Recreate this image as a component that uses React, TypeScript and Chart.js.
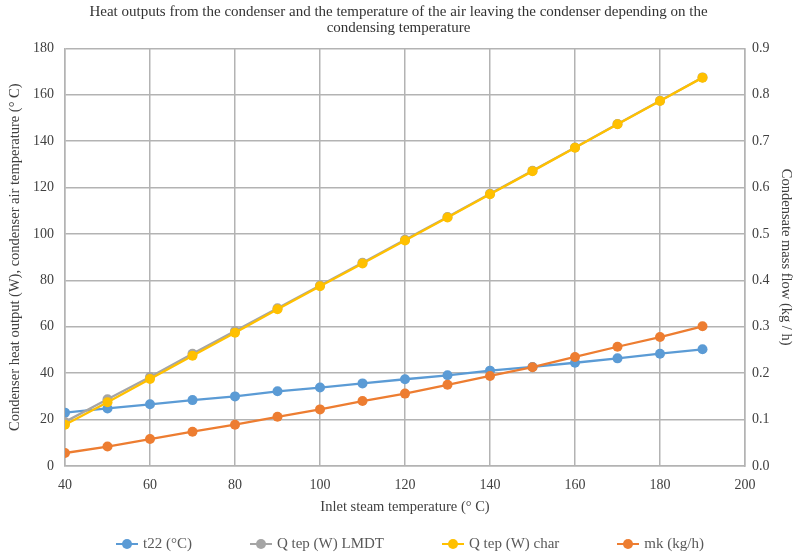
import React, { useEffect, useRef } from 'react';
import { Chart, registerables } from 'chart.js';

Chart.register(...registerables);

const inletTemps = [40, 50, 60, 70, 80, 90, 100, 110, 120, 130, 140, 150, 160, 170, 180, 190];
const t22 = [23.0, 24.8, 26.6, 28.4, 30.0, 32.2, 33.8, 35.6, 37.4, 39.1, 41.1, 42.7, 44.5, 46.4, 48.4, 50.3];
const qLmdt = [19.0, 28.8, 38.4, 48.4, 58.2, 68.0, 77.8, 87.6, 97.5, 107.3, 117.3, 127.3, 137.3, 147.4, 157.4, 167.5];
const qChar = [17.8, 27.5, 37.5, 47.5, 57.4, 67.6, 77.5, 87.3, 97.2, 107.1, 117.1, 127.1, 137.2, 147.3, 157.3, 167.4];
const mk = [0.028, 0.042, 0.058, 0.074, 0.089, 0.106, 0.122, 0.14, 0.156, 0.175, 0.194, 0.213, 0.235, 0.257, 0.278, 0.301];

const seriesLabels = ['t22 (°C)', 'Q tep (W) LMDT', 'Q tep (W) char', 'mk (kg/h)'];
const seriesColors = ['#5B9BD5', '#A5A5A5', '#FFC000', '#ED7D31'];
const seriesAxes = ['y', 'y', 'y', 'y1'];
const seriesValues = [t22, qLmdt, qChar, mk];
const seriesOrder = [4, 3, 2, 1];

const titleLines = [
  'Heat outputs from the condenser and the temperature of the air leaving the condenser depending on the',
  'condensing temperature',
];
const xTitle = 'Inlet steam temperature (° C)';
const yTitle = 'Condenser heat output (W), condenser air temperature (° C)';
const y1Title = 'Condensate mass flow (kg / h)';

const FONT = "'Liberation Serif', 'Times New Roman', serif";
const GRID = '#b3b3b3';
const TEXT = '#404040';

export default function App() {
  const canvasRef = useRef<HTMLCanvasElement | null>(null);

  useEffect(() => {
    const ctx = canvasRef.current;
    if (!ctx) return;
    const datasets = seriesLabels.map((label, i) => ({
      label,
      data: inletTemps.map((x, j) => ({ x, y: seriesValues[i][j] })),
      borderColor: seriesColors[i],
      backgroundColor: seriesColors[i],
      pointBackgroundColor: seriesColors[i],
      pointBorderColor: seriesColors[i],
      pointBorderWidth: 0,
      pointRadius: 5,
      borderWidth: 2.3,
      yAxisID: seriesAxes[i],
      order: seriesOrder[i],
      tension: 0,
    }));
    const chart = new Chart(ctx, {
      type: 'line',
      data: { datasets },
      options: {
        animation: false,
        responsive: false,
        layout: { padding: { top: 0, left: 0, right: 0, bottom: 33 } },
        plugins: {
          legend: { display: false },
          tooltip: { enabled: false },
          title: {
            display: true,
            text: titleLines,
            color: '#333333',
            font: { family: FONT, size: 15, weight: 'normal', lineHeight: 1.08 },
            padding: { top: 4, bottom: 12 },
          },
        },
        scales: {
          x: {
            type: 'linear',
            min: 40,
            max: 200,
            ticks: { stepSize: 20, color: TEXT, font: { family: FONT, size: 14 }, padding: 11 },
            grid: { color: GRID, lineWidth: 1.5, drawTicks: false },
            border: { color: GRID, width: 1.5 },
            title: {
              display: true,
              text: xTitle,
              color: TEXT,
              font: { family: FONT, size: 14.5 },
              padding: { top: 0, bottom: 6 },
            },
            afterFit: (s: any) => {
              s.height = 56;
            },
          },
          y: {
            position: 'left',
            min: 0,
            max: 180,
            ticks: { stepSize: 20, color: TEXT, font: { family: FONT, size: 14 }, padding: 11 },
            grid: { color: GRID, lineWidth: 1.5, drawTicks: false },
            border: { color: GRID, width: 1.5 },
            title: {
              display: true,
              text: yTitle,
              color: TEXT,
              font: { family: FONT, size: 14.5 },
              padding: { top: 6, bottom: 0 },
            },
            afterFit: (s: any) => {
              s.width = 65;
            },
          },
          y1: {
            position: 'right',
            min: 0,
            max: 0.9,
            ticks: {
              stepSize: 0.1,
              color: TEXT,
              font: { family: FONT, size: 14 },
              padding: 7,
              callback: (v: any) => Number(v).toFixed(1),
            },
            grid: { display: false, drawTicks: false },
            border: { color: GRID, width: 1.5 },
            title: {
              display: true,
              text: y1Title,
              color: TEXT,
              font: { family: FONT, size: 14.5 },
              padding: { top: 2, bottom: 0 },
            },
            afterFit: (s: any) => {
              s.width = 52;
            },
          },
        },
      },
    });
    return () => chart.destroy();
  }, []);

  return (
    <div style={{ position: 'absolute', left: 0, top: 0, width: 797, height: 555, background: '#fff' }}>
      <canvas ref={canvasRef} width={797} height={555} style={{ display: 'block' }} />
      <div
        style={{
          position: 'absolute',
          left: 116,
          top: 535,
          display: 'flex',
          alignItems: 'center',
          gap: 58,
          fontFamily: FONT,
          fontSize: 15,
          color: '#595959',
          whiteSpace: 'nowrap',
        }}
      >
        {seriesLabels.map((label, i) => (
          <div key={label} style={{ display: 'flex', alignItems: 'center' }}>
            <span style={{ position: 'relative', width: 22, height: 12, display: 'inline-block', marginRight: 5 }}>
              <span
                style={{
                  position: 'absolute',
                  left: 0,
                  top: 5,
                  width: 22,
                  height: 2.5,
                  background: seriesColors[i],
                }}
              />
              <span
                style={{
                  position: 'absolute',
                  left: 6,
                  top: 1,
                  width: 10,
                  height: 10,
                  borderRadius: 5,
                  background: seriesColors[i],
                }}
              />
            </span>
            <span>{label}</span>
          </div>
        ))}
      </div>
    </div>
  );
}
